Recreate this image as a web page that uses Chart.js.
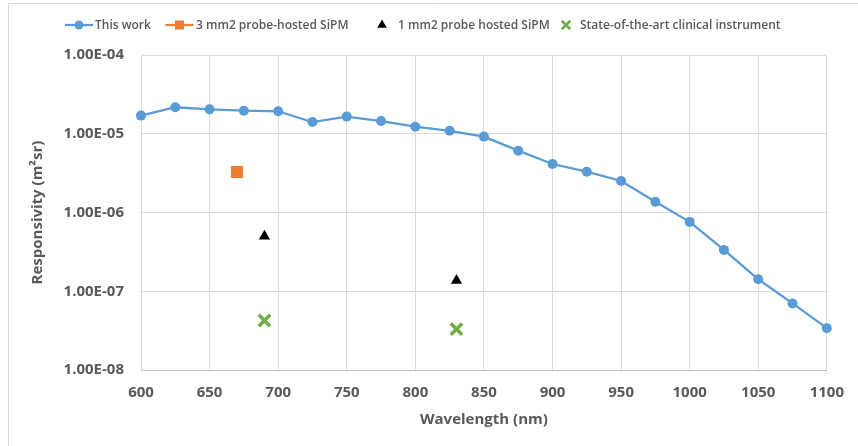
<!DOCTYPE html>
<html lang="en">
<head>
    <meta charset="UTF-8">
    <title>Responsivity vs Wavelength</title>
    <style>
        body { margin: 0; background: #fff; }
        #wrap { position: relative; width: 858px; height: 446px; }
    </style>
</head>
<body>
    <div id="wrap"><canvas id="myChart"></canvas></div>

    <script src="https://cdn.jsdelivr.net/npm/chart.js"></script>
    <script>
        // data
        const wavelengths = [600, 625, 650, 675, 700, 725, 750, 775, 800, 825, 850,
                             875, 900, 925, 950, 975, 1000, 1025, 1050, 1075, 1100];
        const thisWork = [1.7e-5, 2.17e-5, 2.04e-5, 1.96e-5, 1.93e-5, 1.41e-5, 1.65e-5, 1.45e-5, 1.23e-5, 1.09e-5, 9.2e-6,
                          6.1e-6, 4.13e-6, 3.3e-6, 2.51e-6, 1.37e-6, 7.6e-7, 3.35e-7, 1.42e-7, 7.0e-8, 3.4e-8];
        const probe3Wl = [670];
        const probe3Val = [3.27e-6];
        const probe1Wl = [690, 830];
        const probe1Val = [5.0e-7, 1.37e-7];
        const clinicalWl = [690, 830];
        const clinicalVal = [4.25e-8, 3.3e-8];
        const seriesNames = ['This work', '3 mm2 probe-hosted SiPM', '1 mm2 probe hosted SiPM', 'State-of-the-art clinical instrument'];
        const xTicks = [600, 650, 700, 750, 800, 850, 900, 950, 1000, 1050, 1100];
        const yTicks = [1e-8, 1e-7, 1e-6, 1e-5, 1e-4];

        const FONT = '"Open Sans", "DejaVu Sans", sans-serif';
        const TEXT = '#595959';
        const GRID = '#d9d9d9';

        const toPts = (xs, ys) => xs.map((x, i) => ({x: x, y: ys[i]}));

        function sciLabel(v) {
            const parts = Number(v).toExponential(2).split('e');
            const e = parseInt(parts[1], 10);
            return parts[0] + 'E' + (e < 0 ? '-' : '+') + String(Math.abs(e)).padStart(2, '0');
        }

        function marker(ctx, style, x, y, r, color, lw) {
            ctx.beginPath();
            if (style === 'circle') {
                ctx.arc(x, y, r, 0, Math.PI * 2);
                ctx.fillStyle = color; ctx.fill();
            } else if (style === 'rect') {
                ctx.fillStyle = color;
                ctx.fillRect(x - r, y - r, 2 * r, 2 * r);
            } else if (style === 'triangle') {
                ctx.moveTo(x, y - r);
                ctx.lineTo(x + r * 0.866, y + r / 2);
                ctx.lineTo(x - r * 0.866, y + r / 2);
                ctx.closePath();
                ctx.fillStyle = color; ctx.fill();
            } else if (style === 'crossRot') {
                const d = r * 0.707;
                ctx.moveTo(x - d, y - d); ctx.lineTo(x + d, y + d);
                ctx.moveTo(x + d, y - d); ctx.lineTo(x - d, y + d);
                ctx.strokeStyle = color; ctx.lineWidth = lw; ctx.stroke();
            }
        }

        // excel-like frame and legend
        const frame = {
            id: 'frame',
            beforeDraw(chart) {
                const ctx = chart.ctx;
                ctx.save();
                ctx.fillStyle = '#fff';
                ctx.fillRect(0, 0, chart.width, chart.height);
                ctx.strokeStyle = GRID;
                ctx.lineWidth = 1;
                ctx.beginPath();
                ctx.moveTo(8.5, chart.height);
                ctx.lineTo(8.5, 3.5);
                ctx.lineTo(chart.width, 3.5);
                ctx.stroke();
                ctx.restore();
            }
        };

        const legend = {
            id: 'excelLegend',
            afterDraw(chart, args, opts) {
                const ctx = chart.ctx;
                ctx.save();
                ctx.font = '600 12px ' + FONT;
                ctx.textBaseline = 'middle';
                chart.data.datasets.forEach((ds, i) => {
                    const cx = opts.markerX[i];
                    const y = opts.y;
                    if (opts.withLine[i]) {
                        ctx.beginPath();
                        ctx.moveTo(cx - 14, y); ctx.lineTo(cx + 14, y);
                        ctx.strokeStyle = ds.backgroundColor; ctx.lineWidth = 2.25;
                        ctx.stroke();
                    }
                    marker(ctx, ds.pointStyle, cx, y, opts.sizes[i], ds.backgroundColor, 2.5);
                    ctx.fillStyle = TEXT;
                    ctx.fillText(ds.label, opts.textX[i], y + 1);
                });
                ctx.restore();
            }
        };

        function draw() {
            const ctx = document.getElementById('myChart').getContext('2d');
            new Chart(ctx, {
                type: 'scatter',
                data: {
                    datasets: [{
                        label: seriesNames[0],
                        data: toPts(wavelengths, thisWork),
                        showLine: true,
                        clip: false,
                        borderColor: '#5b9bd5',
                        backgroundColor: '#5b9bd5',
                        pointBackgroundColor: '#5b9bd5',
                        pointBorderColor: '#5b9bd5',
                        borderWidth: 2.25,
                        pointStyle: 'circle',
                        pointRadius: 5,
                        pointBorderWidth: 0
                    }, {
                        label: seriesNames[1],
                        data: toPts(probe3Wl, probe3Val),
                        showLine: false,
                        clip: false,
                        borderColor: '#ed7d31',
                        backgroundColor: '#ed7d31',
                        pointStyle: 'rect',
                        pointRadius: 8.5,
                        pointBorderWidth: 0
                    }, {
                        label: seriesNames[2],
                        data: toPts(probe1Wl, probe1Val),
                        showLine: false,
                        clip: false,
                        borderColor: '#000',
                        backgroundColor: '#000',
                        pointStyle: 'triangle',
                        pointRadius: 6.5,
                        pointBorderWidth: 0
                    }, {
                        label: seriesNames[3],
                        data: toPts(clinicalWl, clinicalVal),
                        showLine: false,
                        clip: false,
                        borderColor: '#70ad47',
                        backgroundColor: '#70ad47',
                        pointStyle: 'crossRot',
                        pointRadius: 8,
                        pointBorderWidth: 3.5
                    }]
                },
                plugins: [frame, legend],
                options: {
                    responsive: true,
                    maintainAspectRatio: false,
                    animation: false,
                    layout: { padding: { top: 55, right: 31, bottom: 0, left: 0 } },
                    plugins: {
                        legend: { display: false },
                        tooltip: { enabled: false },
                        excelLegend: {
                            y: 25,
                            markerX: [79, 179.5, 382, 566],
                            textX: [95, 196, 398, 580],
                            sizes: [4.5, 4.5, 5.5, 6],
                            withLine: [true, true, false, false]
                        }
                    },
                    scales: {
                        x: {
                            type: 'linear',
                            min: 600,
                            max: 1100,
                            afterFit: s => { s.height = 76; },
                            afterBuildTicks: s => { s.ticks = xTicks.map(v => ({value: v})); },
                            grid: { color: GRID, drawTicks: false },
                            border: { color: '#bfbfbf' },
                            ticks: {
                                padding: 14,
                                color: TEXT,
                                font: { family: FONT, size: 15, weight: 'bold' },
                                callback: v => String(v)
                            },
                            title: {
                                display: true,
                                text: 'Wavelength (nm)',
                                color: TEXT,
                                padding: { top: 0, bottom: 17 },
                                font: { family: FONT, size: 15, weight: 'bold' }
                            }
                        },
                        y: {
                            type: 'logarithmic',
                            min: 1e-8,
                            max: 1e-4,
                            afterFit: s => { s.width = 141; },
                            afterBuildTicks: s => { s.ticks = yTicks.map(v => ({value: v})); },
                            grid: { color: GRID, drawTicks: false },
                            border: { color: GRID },
                            ticks: {
                                padding: 17,
                                color: TEXT,
                                font: { family: FONT, size: 15, weight: 'bold' },
                                callback: v => sciLabel(v)
                            },
                            title: {
                                display: true,
                                text: 'Responsivity (m²sr)',
                                color: TEXT,
                                padding: { top: 29, bottom: 0 },
                                font: { family: FONT, size: 15, weight: 'bold' }
                            }
                        }
                    }
                }
            });
        }

        document.fonts.load('bold 15px "Open Sans"').then(draw, draw);
    </script>
</body>
</html>
